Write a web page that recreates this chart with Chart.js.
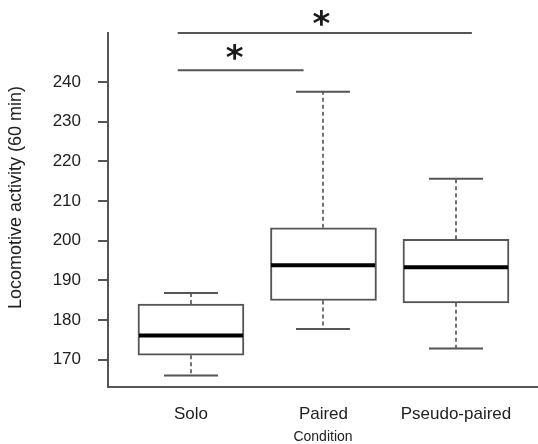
<!DOCTYPE html>
<html>
<head>
<meta charset="utf-8">
<script src="https://cdn.jsdelivr.net/npm/chart.js@4.4.0/dist/chart.umd.min.js"></script>
<style>
  html, body { margin: 0; padding: 0; background: #fff; }
  #wrap { width: 538px; height: 444px; position: relative; }
</style>
</head>
<body>
<div id="wrap"><canvas id="boxChart"></canvas></div>
<script>
const categories = ['Solo', 'Paired', 'Pseudo-paired'];
const whiskerLow = [166.0, 177.7, 172.8];
const lowerQuartile = [171.1, 184.9, 184.3];
const medians = [176.1, 193.8, 193.3];
const upperQuartile = [184.0, 203.2, 200.3];
const whiskerHigh = [186.8, 237.5, 215.6];
const yTicks = [170, 180, 190, 200, 210, 220, 230, 240];

// significance brackets (category units / y units)
const sigFrom = [-0.1, -0.1];
const sigTo = [0.85, 2.12];
const sigLevel = [242.9, 252.3];
const sigMark = ['*', '*'];
const sigMarkX = [0.33, 0.985];
const sigMarkY = [247.5, 256.0];

const FONT = '"Liberation Sans", Arial, sans-serif';

const boxExtras = {
  id: 'boxExtras',
  afterDatasetsDraw(chart) {
    const { ctx, scales: { x, y } } = chart;
    const half = 52;
    const capHalf = 27;
    ctx.save();
    categories.forEach((c, i) => {
      const cx = Math.round(x.getPixelForValue(i));
      // whiskers
      ctx.strokeStyle = '#444';
      ctx.lineWidth = 1.5;
      ctx.setLineDash([4, 3]);
      ctx.beginPath();
      ctx.moveTo(cx, y.getPixelForValue(upperQuartile[i]));
      ctx.lineTo(cx, y.getPixelForValue(whiskerHigh[i]));
      ctx.moveTo(cx, y.getPixelForValue(lowerQuartile[i]));
      ctx.lineTo(cx, y.getPixelForValue(whiskerLow[i]));
      ctx.stroke();
      ctx.setLineDash([]);
      // caps
      ctx.strokeStyle = '#555';
      ctx.lineWidth = 2;
      ctx.beginPath();
      [whiskerHigh[i], whiskerLow[i]].forEach(v => {
        const py = y.getPixelForValue(v);
        ctx.moveTo(cx - capHalf, py);
        ctx.lineTo(cx + capHalf, py);
      });
      ctx.stroke();
      // median
      ctx.strokeStyle = '#000';
      ctx.lineWidth = 4;
      ctx.beginPath();
      const my = y.getPixelForValue(medians[i]);
      ctx.moveTo(cx - half, my);
      ctx.lineTo(cx + half, my);
      ctx.stroke();
    });

    // significance brackets
    sigFrom.forEach((f, k) => {
      const py = y.getPixelForValue(sigLevel[k]);
      ctx.strokeStyle = '#555';
      ctx.lineWidth = 2;
      ctx.beginPath();
      ctx.moveTo(x.getPixelForValue(f), py);
      ctx.lineTo(x.getPixelForValue(sigTo[k]), py);
      ctx.stroke();
      ctx.fillStyle = '#1a1a1a';
      ctx.font = 'bold 34px "DejaVu Sans", sans-serif';
      ctx.textAlign = 'center';
      ctx.textBaseline = 'middle';
      ctx.fillText(sigMark[k], x.getPixelForValue(sigMarkX[k]), y.getPixelForValue(sigMarkY[k]) + 8);
    });
    ctx.restore();
  }
};

const ctx = document.getElementById('boxChart').getContext('2d');

const boxChart = new Chart(ctx, {
  type: 'bar',
  data: {
    datasets: [{
      label: 'Locomotive activity',
      data: categories.map((c, i) => ({ x: i, y: [lowerQuartile[i], upperQuartile[i]] })),
      backgroundColor: '#fff',
      borderColor: '#555',
      borderWidth: 2,
      borderSkipped: false,
      barThickness: 106
    }]
  },
  options: {
    responsive: true,
    maintainAspectRatio: false,
    animation: false,
    layout: { padding: { top: 33, right: 0, left: 0, bottom: 0 } },
    plugins: {
      legend: { display: false },
      tooltip: { enabled: false }
    },
    scales: {
      x: {
        type: 'linear',
        offset: false,
        min: -0.626,
        max: 2.619,
        grid: { display: false },
        border: { display: true, color: '#555', width: 2 },
        afterBuildTicks: (scale) => { scale.ticks = categories.map((c, i) => ({ value: i })); },
        afterFit: (scale) => { scale.height = 57; },
        ticks: {
          padding: 9,
          color: '#222',
          font: { family: FONT, size: 17 },
          callback: (v) => categories[v]
        },
        title: {
          display: true,
          text: 'Condition',
          color: '#222',
          font: { family: FONT, size: 14, lineHeight: 1 },
          padding: { top: 0, bottom: 0 }
        }
      },
      y: {
        min: 163.1,
        max: 252.3,
        grid: { drawOnChartArea: false, drawTicks: true, tickLength: 10, color: '#555', lineWidth: 2 },
        border: { display: true, color: '#555', width: 2 },
        afterBuildTicks: (scale) => { scale.ticks = yTicks.map(v => ({ value: v })); },
        afterFit: (scale) => { scale.width = 108; },
        ticks: {
          padding: 17,
          color: '#222',
          font: { family: FONT, size: 17 }
        },
        title: {
          display: true,
          text: '     Locomotive activity (60 min)',
          color: '#222',
          font: { family: FONT, size: 18 },
          padding: { top: 5, bottom: 0 }
        }
      }
    }
  },
  plugins: [boxExtras]
});
</script>
</body>
</html>
